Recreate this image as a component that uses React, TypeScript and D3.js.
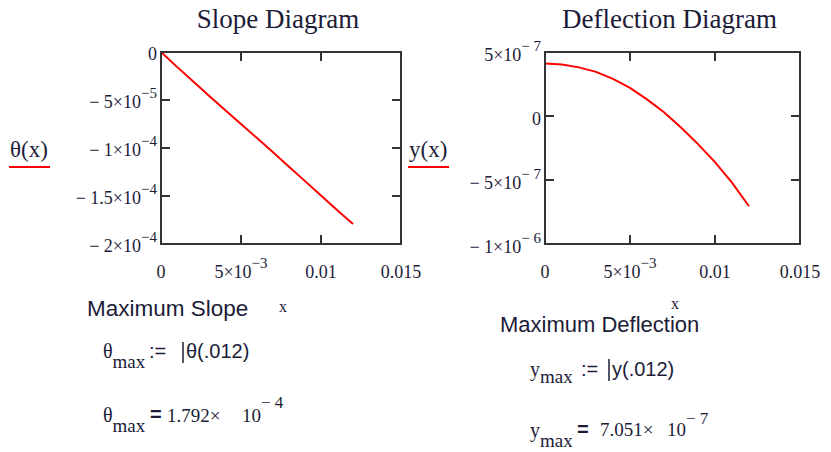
import * as d3 from 'd3';

// sample positions along the beam (m)
const xVals = [0, 0.001, 0.002, 0.003, 0.004, 0.005, 0.006, 0.007, 0.008, 0.009, 0.01, 0.011, 0.012];
// slope θ(x)
const slopeVals = [0, -1.55e-5, -3.05e-5, -4.55e-5, -6.03e-5, -7.5e-5, -8.97e-5, -1.045e-4, -1.195e-4, -1.345e-4, -1.495e-4, -1.645e-4, -1.792e-4];
// deflection y(x)
const deflVals = [4.1e-7, 4.02e-7, 3.8e-7, 3.45e-7, 2.9e-7, 2.2e-7, 1.3e-7, 0.3e-7, -0.9e-7, -2.2e-7, -3.6e-7, -5.2e-7, -7.05e-7];

const xTicks = [0, 0.005, 0.01, 0.015];
const xTickLabels = [{ m: '0' }, { m: '5×10', e: '−3' }, { m: '0.01' }, { m: '0.015' }];

const slopeYTicks = [0, -5e-5, -1e-4, -1.5e-4, -2e-4];
const slopeYLabels = [{ m: '0' }, { m: '− 5×10', e: '−5' }, { m: '− 1×10', e: '−4' }, { m: '− 1.5×10', e: '−4' }, { m: '− 2×10', e: '−4' }];

const deflYTicks = [5e-7, 0, -5e-7, -1e-6];
const deflYLabels = [{ m: '5×10', e: '− 7' }, { m: '0' }, { m: '− 5×10', e: '− 7' }, { m: '− 1×10', e: '− 6' }];

const SERIF = '"Liberation Serif", "Times New Roman", serif';
const SANS = '"Liberation Sans", Arial, sans-serif';
const INK = '#1c1c38';

type Label = { m: string; e?: string };

const TickText = ({ x, y, lab, anchor }: { x: number; y: number; lab: Label; anchor: string }) => (
  <text x={x} y={y} textAnchor={anchor} fontFamily={SERIF} fontSize={18} fill={INK}>
    {lab.m}
    {lab.e && (
      <tspan dy={-10} fontSize={15}>{lab.e}</tspan>
    )}
  </text>
);

const Plot = ({ left, top, width, height, yDomain, yTicks, yLabels, yVals, title, yName, yNameX, xNameX, xNameY, labelDy }: any) => {
  const x = d3.scaleLinear().domain([0, 0.015]).range([left, left + width]);
  const y = d3.scaleLinear().domain(yDomain).range([top, top + height]);
  const line = d3.line<number>()
    .x((_, i) => x(xVals[i]))
    .y(d => y(d));
  const tl = 9;

  return (
    <g>
      <text x={left + width / 2 - 3} y={28} textAnchor="middle" fontFamily={SERIF} fontSize={27} fill={INK}>{title}</text>

      <path d={line(yVals) || ''} fill="none" stroke="#ff0000" strokeWidth={2} />

      <rect x={left} y={top} width={width} height={height} fill="none" stroke="#333" strokeWidth={2} />

      {xTicks.slice(1, -1).map(t => (
        <g key={'xt' + t}>
          <line x1={x(t)} x2={x(t)} y1={top} y2={top + tl} stroke="#333" strokeWidth={2} />
          <line x1={x(t)} x2={x(t)} y1={top + height} y2={top + height - tl} stroke="#333" strokeWidth={2} />
        </g>
      ))}
      {yTicks.filter((t: number) => y(t) > top + 1 && y(t) < top + height - 1).map((t: number) => (
        <g key={'yt' + t}>
          <line x1={left} x2={left + tl} y1={y(t)} y2={y(t)} stroke="#333" strokeWidth={2} />
          <line x1={left + width} x2={left + width - tl} y1={y(t)} y2={y(t)} stroke="#333" strokeWidth={2} />
        </g>
      ))}

      {xTicks.map((t, i) => (
        <TickText key={'xl' + t} x={x(t)} y={278} lab={xTickLabels[i]} anchor="middle" />
      ))}
      {yTicks.map((t: number, i: number) => (
        <TickText key={'yl' + t} x={left - 4} y={y(t) + labelDy} lab={yLabels[i]} anchor="end" />
      ))}

      <text x={yNameX} y={157} fontFamily={SERIF} fontSize={23} fill={INK}>{yName}</text>
      <line x1={yNameX - 1} x2={yNameX + 40} y1={167} y2={167} stroke="#ff0000" strokeWidth={2} />

      <text x={xNameX} y={xNameY} textAnchor="middle" fontFamily={SERIF} fontSize={16} fill={INK}>x</text>
    </g>
  );
};

const App = () => {
  return (
    <svg width={831} height={452} style={{ position: 'absolute', left: 0, top: 0, background: '#fff' }}>
      <rect width={831} height={452} fill="#fff" />
      <Plot left={161} top={52} width={240} height={192} yDomain={[0, -2e-4]} yTicks={slopeYTicks}
        yLabels={slopeYLabels} yVals={slopeVals} title="Slope Diagram" yName="θ(x)" yNameX={10}
        xNameX={283} xNameY={312} labelDy={8} />
      <Plot left={545} top={52} width={255} height={192} yDomain={[5e-7, -1e-6]} yTicks={deflYTicks}
        yLabels={deflYLabels} yVals={deflVals} title="Deflection Diagram" yName="y(x)" yNameX={409}
        xNameX={675} xNameY={309} labelDy={9} />

      {/* left results */}
      <text x={87} y={316} fontFamily={SANS} fontSize={22.5} fill={INK}>Maximum Slope</text>
      <text x={103} y={358} fontFamily={SERIF} fontSize={20} fill={INK}>θ<tspan dy={10} fontSize={19}>max</tspan></text>
      <text x={149} y={358} fontFamily={SANS} fontSize={20} fill={INK}>:=</text>
      <line x1={183} x2={183} y1={342} y2={363} stroke={INK} strokeWidth={1.5} />
      <text x={186} y={358} fontFamily={SANS} fontSize={20} fill={INK}>θ(.012)</text>

      <text x={103} y={422} fontFamily={SERIF} fontSize={20} fill={INK}>θ<tspan dy={10} fontSize={19}>max</tspan></text>
      <text x={150} y={421} fontFamily={SANS} fontSize={20} fontWeight="bold" fill={INK}>=</text>
      <text x={167} y={422} fontFamily={SERIF} fontSize={19} fill={INK}>1.792× <tspan x={242}>10</tspan><tspan dy={-14} fontSize={17}>− 4</tspan></text>

      {/* right results */}
      <text x={500} y={332} fontFamily={SANS} fontSize={22} fill={INK}>Maximum Deflection</text>
      <text x={530} y={376} fontFamily={SERIF} fontSize={20} fill={INK}>y<tspan dy={7} fontSize={19}>max</tspan></text>
      <text x={581} y={376} fontFamily={SANS} fontSize={20} fill={INK}>:=</text>
      <line x1={609} x2={609} y1={359} y2={381} stroke={INK} strokeWidth={1.5} />
      <text x={612} y={376} fontFamily={SANS} fontSize={20} fill={INK}>y(.012)</text>

      <text x={530} y={437} fontFamily={SERIF} fontSize={20} fill={INK}>y<tspan dy={10} fontSize={19}>max</tspan></text>
      <text x={577} y={436} fontFamily={SANS} fontSize={20} fontWeight="bold" fill={INK}>=</text>
      <text x={600} y={436} fontFamily={SERIF} fontSize={19} fill={INK}>7.051× <tspan x={667}>10</tspan><tspan dy={-12} fontSize={17}>− 7</tspan></text>
    </svg>
  );
};

export default App;
